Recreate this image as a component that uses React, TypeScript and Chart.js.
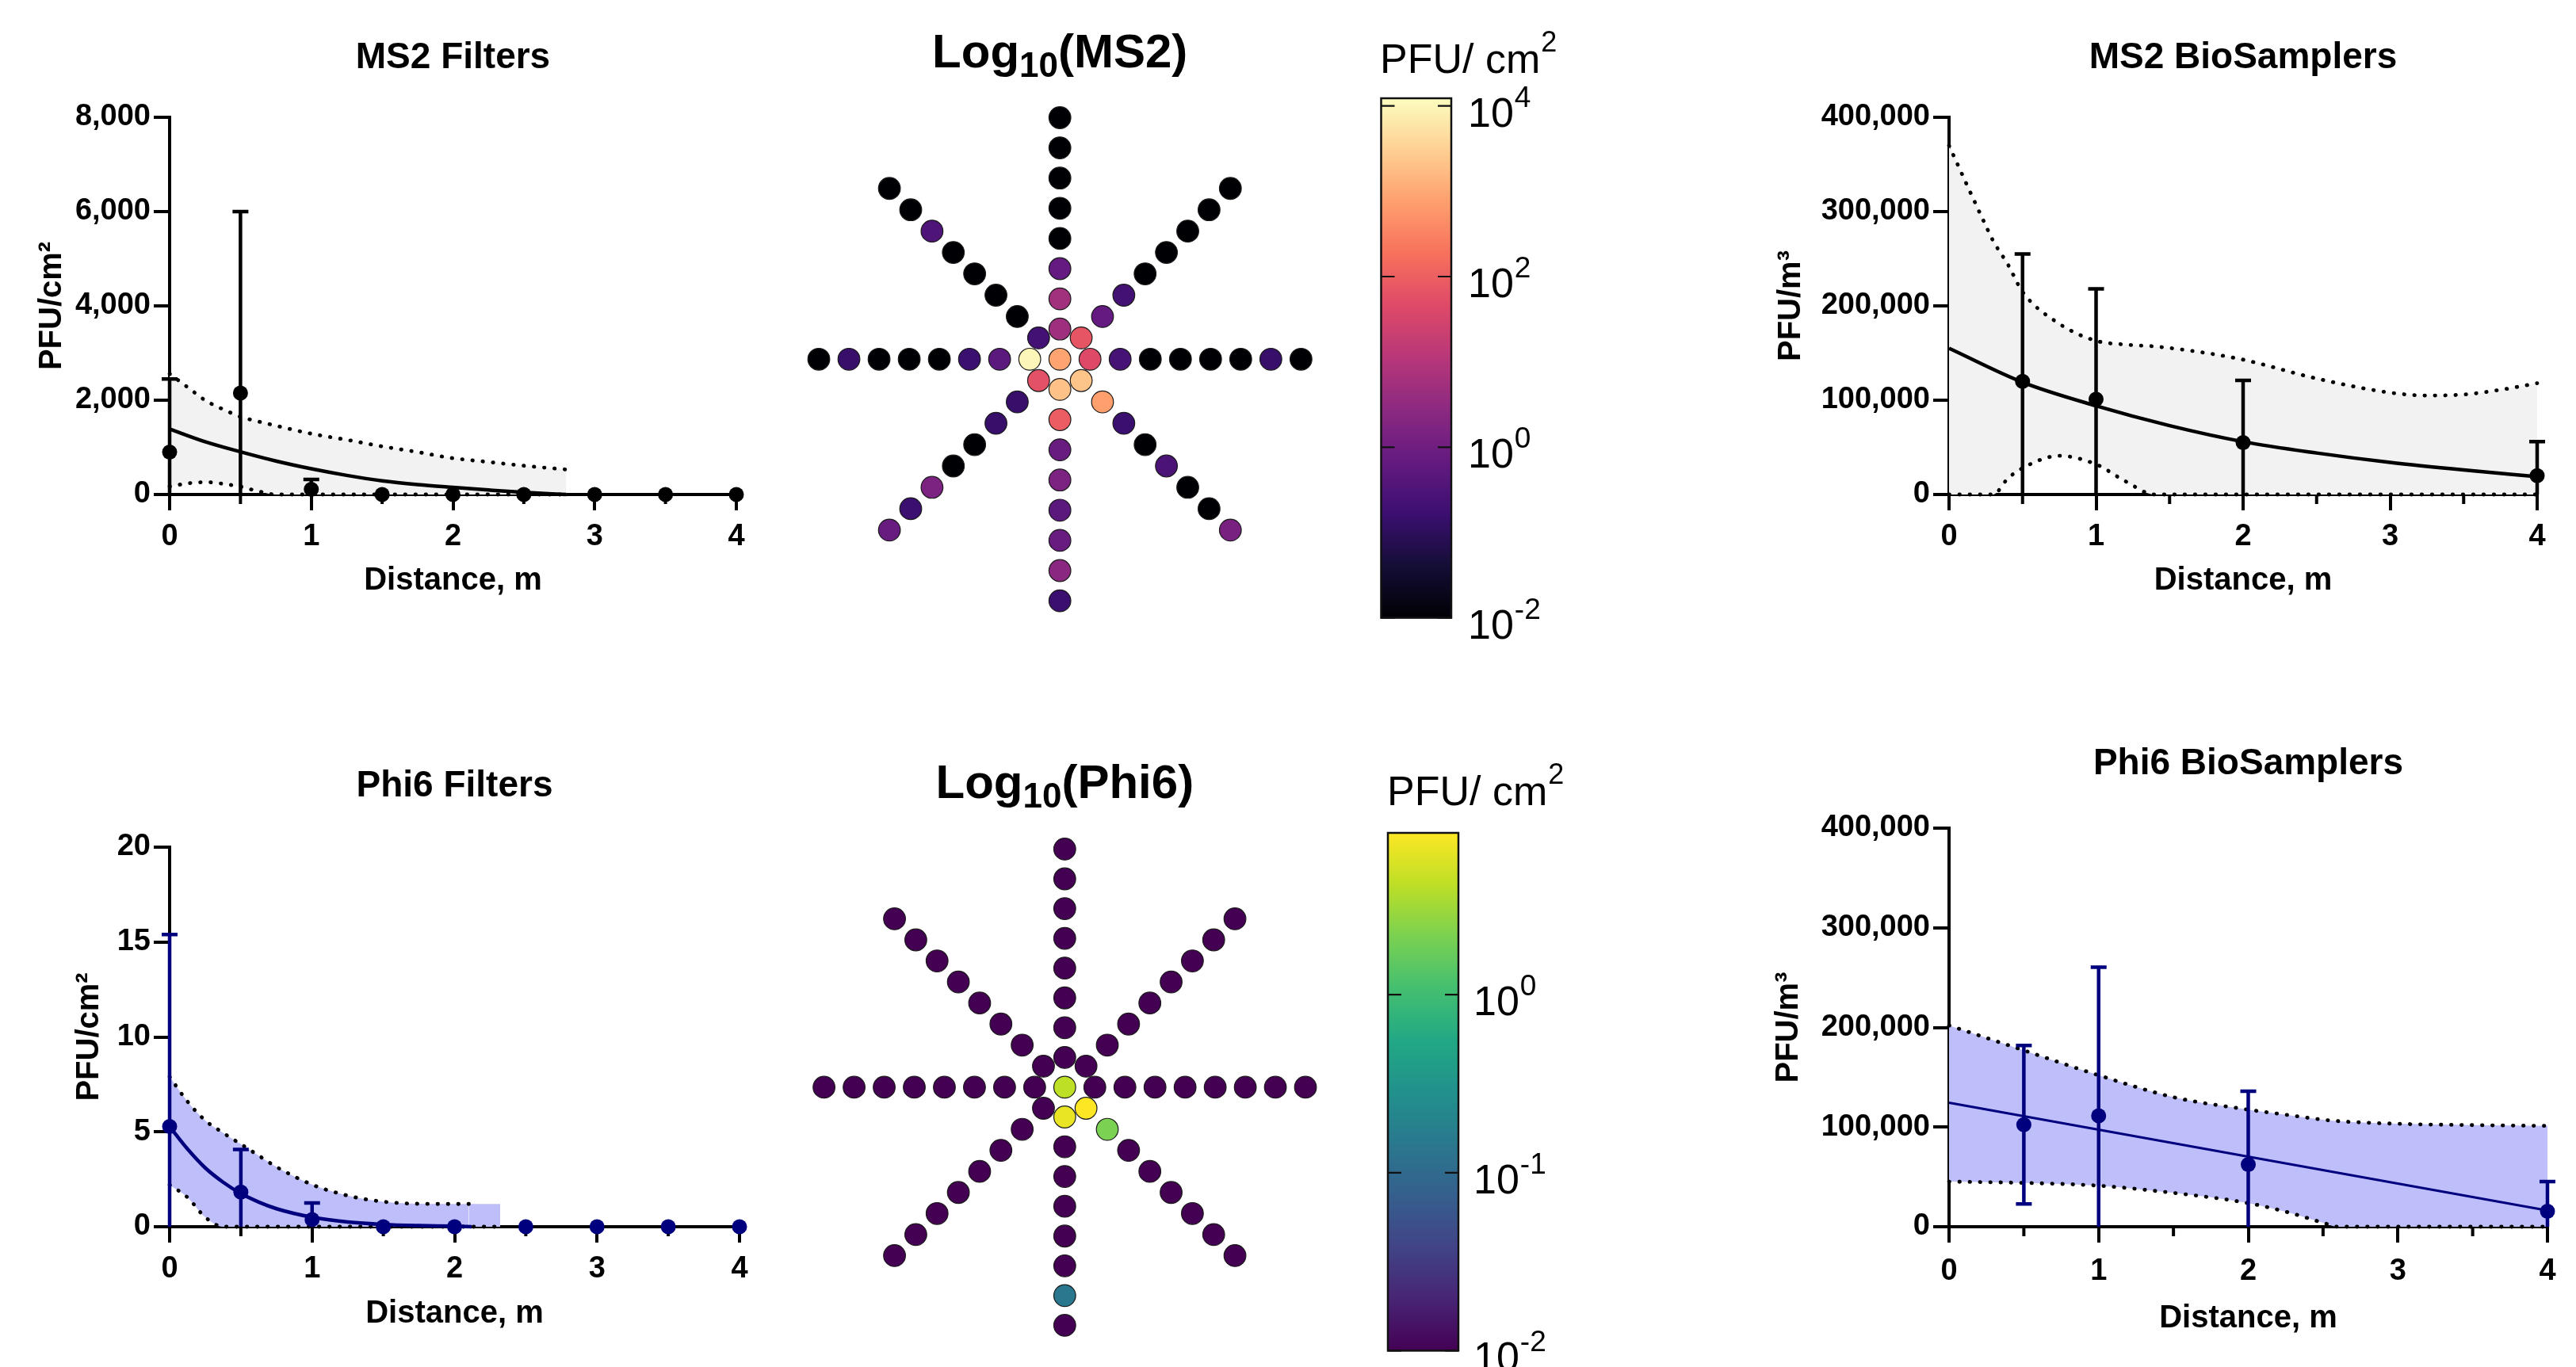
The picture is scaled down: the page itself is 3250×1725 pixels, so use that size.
import React, { useEffect, useRef } from 'react';
import { Chart, registerables } from 'chart.js';

Chart.register(...registerables);

const FONT = '"Liberation Sans", Arial, Helvetica, sans-serif';
Chart.defaults.font.family = FONT;

// ===================== DATA =====================
// --- MS2 Filters (PFU/cm2) ---
const FILTER_DIST = [0, 0.5, 1, 1.5, 2, 2.5, 3, 3.5, 4];
const MS2_FILTER_MEAN = [900, 2150, 110, 0, 0, 0, 0, 0, 0];
const MS2_FILTER_ERR_HIGH = [2450, 6000, 320, null, null, null, null, null, null];
const MS2_FILTER_ERR_LOW = [0, 0, 0, null, null, null, null, null, null];
const MS2_FILTER_FIT_X = [0, 0.25, 0.5, 0.75, 1, 1.25, 1.5, 1.75, 2, 2.25, 2.5, 2.8];
const MS2_FILTER_FIT_Y = [1390, 1120, 905, 710, 545, 405, 290, 210, 150, 95, 45, 0];
const MS2_FILTER_CI_X = [0, 0.125, 0.25, 0.375, 0.5, 0.625, 0.75, 1, 1.25, 1.5, 1.75, 2, 2.25, 2.5, 2.8];
const MS2_FILTER_CI_UPPER = [2560, 2280, 2000, 1810, 1650, 1550, 1460, 1290, 1160, 1020, 900, 770, 690, 610, 530];
const MS2_FILTER_CI_LOWER = [170, 235, 262, 228, 165, 70, 0, 0, 0, 0, 0, 0, 0, 0, 0];

// --- MS2 BioSamplers (PFU/m3) ---
const BIO_DIST = [0.5, 1, 2, 4];
const MS2_BIO_MEAN = [120000, 101000, 55000, 20000];
const MS2_BIO_ERR_HIGH = [255000, 218000, 121000, 56000];
const MS2_BIO_ERR_LOW = [0, 0, 0, 0];
const MS2_BIO_FIT_X = [0, 0.5, 1, 1.5, 2, 2.5, 3, 3.5, 4];
const MS2_BIO_FIT_Y = [155000, 119000, 94000, 73000, 56000, 44000, 34000, 26000, 19000];
const MS2_BIO_CI_X = [0, 0.25, 0.3, 0.4, 0.5, 0.75, 1, 1.2, 1.4, 1.75, 2, 2.5, 3, 3.25, 3.5, 3.75, 4];
const MS2_BIO_CI_UPPER = [370000, 285000, 269000, 244000, 215000, 181000, 163000, 159000, 157000, 150000, 143000, 123000, 108000, 105000, 106000, 111000, 118000];
const MS2_BIO_CI_LOWER = [0, 0, 0, 17000, 28000, 41000, 32000, 14000, 0, 0, 0, 0, 0, 0, 0, 0, 0];

// --- Phi6 Filters (PFU/cm2) ---
const PHI6_FILTER_MEAN = [5.28, 1.83, 0.38, 0, 0, 0, 0, 0, 0];
const PHI6_FILTER_ERR_HIGH = [15.4, 4.07, 1.25, null, null, null, null, null, null];
const PHI6_FILTER_ERR_LOW = [0, 0, 0, null, null, null, null, null, null];
const PHI6_FILTER_FIT_X = [0, 0.125, 0.25, 0.375, 0.5, 0.625, 0.75, 1, 1.25, 1.5, 1.75, 2, 2.12];
const PHI6_FILTER_FIT_Y = [5.28, 4.1, 3.1, 2.35, 1.75, 1.3, 0.95, 0.5, 0.25, 0.12, 0.06, 0.03, 0];
const PHI6_FILTER_CI_X = [0, 0.125, 0.25, 0.375, 0.5, 0.625, 0.75, 1, 1.25, 1.5, 1.75, 2, 2.1, 2.32];
const PHI6_FILTER_CI_UPPER = [7.9, 6.6, 5.6, 4.95, 4.35, 3.75, 3.15, 2.22, 1.64, 1.32, 1.21, 1.2, 1.2, 1.2];
const PHI6_FILTER_CI_LOWER = [2.2, 1.55, 0.5, 0, 0, 0, 0, 0, 0, 0, 0, 0, 0, 0];

// --- Phi6 BioSamplers (PFU/m3) ---
const PHI6_BIO_MEAN = [102400, 111400, 62400, 15500];
const PHI6_BIO_ERR_HIGH = [182000, 260400, 135900, 45300];
const PHI6_BIO_ERR_LOW = [22900, 0, 0, 0];
const PHI6_BIO_FIT_X = [0, 4];
const PHI6_BIO_FIT_Y = [124500, 16300];
const PHI6_BIO_CI_X = [0, 0.5, 1, 1.5, 2, 2.27, 2.5, 2.6, 3, 3.5, 4];
const PHI6_BIO_CI_UPPER = [202000, 177000, 152000, 130000, 117500, 112000, 107400, 106000, 103300, 102000, 101200];
const PHI6_BIO_CI_LOWER = [45300, 44000, 41200, 33900, 23700, 14300, 4000, 0, 0, 0, 0];

const X_MINOR_TICKS = [0.5, 1.5, 2.5, 3.5];

// --- Radial maps: log10(PFU/cm2), arms E, NE, N, NW, W, SW, S, SE; rings inner -> outer ---
const ARM_ANGLES = [0, 45, 90, 135, 180, 225, 270, 315];
const RING_DISTANCES = [0.5, 1, 1.5, 2, 2.5, 3, 3.5, 4];
const MS2_CENTER_LOG = 2.93;
const MS2_ARM_E = [1.65, -0.6, -2, -2, -2, -2, -0.84, -2];
const MS2_ARM_NE = [1.84, -0.17, -0.66, -2, -2, -2, -2, -2];
const MS2_ARM_N = [0.68, 0.74, -0.17, -2, -2, -2, -2, -2];
const MS2_ARM_NW = [-0.66, -2, -2, -2, -2, -0.48, -2, -2];
const MS2_ARM_W = [4.0, -0.3, -0.78, -2, -2, -2, -0.84, -2];
const MS2_ARM_SW = [1.78, -0.84, -0.84, -2, -2, 0.19, -0.78, -0.1];
const MS2_ARM_S = [3.3, 1.96, -0.11, 0.19, -0.3, -0.1, 0.4, -0.78];
const MS2_ARM_SE = [3.36, 2.87, -0.78, -2, -0.54, -2, -2, 0.13];

const PHI6_CENTER_LOG = 0.62;
const PHI6_ARM_E = [-2, -2, -2, -2, -2, -2, -2, -2];
const PHI6_ARM_NE = [-2, -2, -2, -2, -2, -2, -2, -2];
const PHI6_ARM_N = [-2, -2, -2, -2, -2, -2, -2, -2];
const PHI6_ARM_NW = [-2, -2, -2, -2, -2, -2, -2, -2];
const PHI6_ARM_W = [-2, -2, -2, -2, -2, -2, -2, -2];
const PHI6_ARM_SW = [-2, -2, -2, -2, -2, -2, -2, -2];
const PHI6_ARM_S = [0.82, -2, -2, -2, -2, -2, -0.84, -2];
const PHI6_ARM_SE = [0.91, 0.33, -2, -2, -2, -2, -2, -2];

// colour bar ranges and ticks (log10)
const MS2_CBAR_RANGE = [-2, 4.09];
const MS2_CBAR_TICKS = [-2, 0, 2, 4];
const PHI6_CBAR_RANGE = [-2, 0.909];
const PHI6_CBAR_TICKS = [-2, -1, 0];

// ===================== COLORMAPS =====================
const MAGMA = ['#000004', '#140e36', '#3b0f70', '#641a80', '#8c2981', '#b73779', '#de4968', '#f7705c', '#fe9f6d', '#fecf92', '#fcfdbf'];
const VIRIDIS = ['#440154', '#482475', '#414487', '#355f8d', '#2a788e', '#21918c', '#22a884', '#44bf70', '#7ad151', '#bddf26', '#fde725'];

function hexRgb(h: string) {
  return [parseInt(h.slice(1, 3), 16), parseInt(h.slice(3, 5), 16), parseInt(h.slice(5, 7), 16)];
}
function sampleMap(stops: string[], t: number) {
  const tt = Math.max(0, Math.min(1, t));
  const p = tt * (stops.length - 1);
  const i = Math.min(stops.length - 2, Math.floor(p));
  const f = p - i;
  const a = hexRgb(stops[i]);
  const b = hexRgb(stops[i + 1]);
  const c = a.map((v, k) => Math.round(v + (b[k] - v) * f));
  return `rgb(${c[0]},${c[1]},${c[2]})`;
}

// ===================== LINE PANELS =====================
type LineCfg = {
  canvas: { x: number; y: number; w: number; h: number };
  area: { l: number; r: number; t: number; b: number };
  titleY: number; yTitleX: number; xLabelY: number; xTitleY: number;
  title: string; yTitle: string; yMax: number; yStep: number;
  color: string; band: string; fitWidth: number;
  meanX: number[]; mean: number[]; errHigh: (number | null)[]; errLow: (number | null)[];
  fitX: number[]; fit: number[]; ciX: number[]; ciUpper: number[]; ciLower: number[]; ciDotEnd: number;
};

const NAVY = '#00007f';
const LAVENDER = 'rgb(190,190,250)';
const TICK_FONT = 38;

const PANELS: LineCfg[] = [
  {
    canvas: { x: 0, y: 0, w: 1000, h: 860 }, area: { l: 214, r: 929, t: 148, b: 624 },
    titleY: 73.6, yTitleX: 65.5, xLabelY: 678, xTitleY: 733,
    title: 'MS2 Filters', yTitle: 'PFU/cm²', yMax: 8000, yStep: 2000,
    color: '#000', band: '#f2f2f2', fitWidth: 4.5,
    meanX: FILTER_DIST, mean: MS2_FILTER_MEAN, errHigh: MS2_FILTER_ERR_HIGH, errLow: MS2_FILTER_ERR_LOW,
    fitX: MS2_FILTER_FIT_X, fit: MS2_FILTER_FIT_Y, ciX: MS2_FILTER_CI_X, ciUpper: MS2_FILTER_CI_UPPER, ciLower: MS2_FILTER_CI_LOWER, ciDotEnd: 2.8,
  },
  {
    canvas: { x: 2150, y: 0, w: 1100, h: 860 }, area: { l: 2459, r: 3201, t: 148, b: 624 },
    titleY: 73.6, yTitleX: 2260, xLabelY: 678, xTitleY: 733,
    title: 'MS2 BioSamplers', yTitle: 'PFU/m³', yMax: 400000, yStep: 100000,
    color: '#000', band: '#f2f2f2', fitWidth: 4.5,
    meanX: BIO_DIST, mean: MS2_BIO_MEAN, errHigh: MS2_BIO_ERR_HIGH, errLow: MS2_BIO_ERR_LOW,
    fitX: MS2_BIO_FIT_X, fit: MS2_BIO_FIT_Y, ciX: MS2_BIO_CI_X, ciUpper: MS2_BIO_CI_UPPER, ciLower: MS2_BIO_CI_LOWER, ciDotEnd: 4,
  },
  {
    canvas: { x: 0, y: 900, w: 1000, h: 825 }, area: { l: 214, r: 933, t: 1069, b: 1548 },
    titleY: 992, yTitleX: 113, xLabelY: 1601.5, xTitleY: 1658,
    title: 'Phi6 Filters', yTitle: 'PFU/cm²', yMax: 20, yStep: 5,
    color: NAVY, band: LAVENDER, fitWidth: 4.5,
    meanX: FILTER_DIST, mean: PHI6_FILTER_MEAN, errHigh: PHI6_FILTER_ERR_HIGH, errLow: PHI6_FILTER_ERR_LOW,
    fitX: PHI6_FILTER_FIT_X, fit: PHI6_FILTER_FIT_Y, ciX: PHI6_FILTER_CI_X, ciUpper: PHI6_FILTER_CI_UPPER, ciLower: PHI6_FILTER_CI_LOWER, ciDotEnd: 2.1,
  },
  {
    canvas: { x: 2150, y: 900, w: 1100, h: 825 }, area: { l: 2459, r: 3214, t: 1045, b: 1548 },
    titleY: 964.5, yTitleX: 2256.6, xLabelY: 1604.5, xTitleY: 1664,
    title: 'Phi6 BioSamplers', yTitle: 'PFU/m³', yMax: 400000, yStep: 100000,
    color: NAVY, band: LAVENDER, fitWidth: 3,
    meanX: BIO_DIST, mean: PHI6_BIO_MEAN, errHigh: PHI6_BIO_ERR_HIGH, errLow: PHI6_BIO_ERR_LOW,
    fitX: PHI6_BIO_FIT_X, fit: PHI6_BIO_FIT_Y, ciX: PHI6_BIO_CI_X, ciUpper: PHI6_BIO_CI_UPPER, ciLower: PHI6_BIO_CI_LOWER, ciDotEnd: 4,
  },
];

function LinePanel({ cfg }: { cfg: LineCfg }) {
  const ref = useRef<HTMLCanvasElement>(null);
  const c = cfg.canvas;
  useEffect(() => {
    const a = cfg.area;
    const tLH = 46 * 1.2;
    const titleTop = cfg.titleY - c.y - tLH / 2;
    const titleBottom = a.t - c.y - titleTop - tLH;
    const yW = a.l - c.x;
    const xH = c.y + c.h - a.b;
    const padR = c.x + c.w - a.r;
    const yTitlePad = cfg.yTitleX - c.x - 24;
    const xTickPad = cfg.xLabelY - a.b - 20 - (TICK_FONT * 1.2) / 2;
    const xTitlePad = c.y + c.h - cfg.xTitleY - 24;
    const zip = (xs: number[], ys: number[]) => xs.map((x, i) => ({ x, y: ys[i] }));

    const errorBars = {
      id: 'errorBars',
      afterDatasetDraw(chart: any, args: any) {
        if (chart.data.datasets[args.index].label !== 'Fit') return;
        const ctx = chart.ctx;
        const xs = chart.scales.x;
        const ys = chart.scales.y;
        ctx.save();
        ctx.strokeStyle = cfg.color;
        ctx.lineWidth = 4.5;
        ctx.lineCap = 'butt';
        cfg.meanX.forEach((xv, i) => {
          const hi = cfg.errHigh[i];
          if (hi == null) return;
          const lo = cfg.errLow[i] ?? 0;
          const px = xs.getPixelForValue(xv);
          const pHi = ys.getPixelForValue(hi);
          const pLo = ys.getPixelForValue(Math.max(lo, 0));
          ctx.beginPath();
          ctx.moveTo(px, pLo);
          ctx.lineTo(px, pHi);
          ctx.moveTo(px - 10, pHi);
          ctx.lineTo(px + 10, pHi);
          if (lo > 0) {
            ctx.moveTo(px - 10, pLo);
            ctx.lineTo(px + 10, pLo);
          }
          ctx.stroke();
        });
        ctx.restore();
      },
    };
    const minorTicks = {
      id: 'minorTicks',
      beforeDatasetsDraw(chart: any) {
        const ctx = chart.ctx;
        const xs = chart.scales.x;
        const y0 = chart.chartArea.bottom;
        ctx.save();
        ctx.strokeStyle = '#000';
        ctx.lineWidth = 4;
        X_MINOR_TICKS.forEach((v) => {
          const px = xs.getPixelForValue(v);
          ctx.beginPath();
          ctx.moveTo(px, y0);
          ctx.lineTo(px, y0 + 12);
          ctx.stroke();
        });
        ctx.restore();
      },
    };

    const chart = new Chart(ref.current as HTMLCanvasElement, {
      type: 'line',
      data: {
        datasets: [
          {
            label: 'Mean', data: zip(cfg.meanX, cfg.mean), showLine: false,
            pointRadius: 9.5, pointHoverRadius: 9.5, pointBackgroundColor: cfg.color, pointBorderWidth: 0,
            order: 0, clip: false as any,
          },
          {
            label: 'Fit', data: zip(cfg.fitX, cfg.fit), borderColor: cfg.color, borderWidth: cfg.fitWidth,
            pointRadius: 0, cubicInterpolationMode: 'monotone', fill: false, order: 1, clip: false as any,
          },
          {
            label: 'CI lower', data: zip(cfg.ciX, cfg.ciLower), borderColor: '#000', borderWidth: 4.8,
            borderDash: [0.5, 12.5], borderCapStyle: 'round', pointRadius: 0, cubicInterpolationMode: 'monotone',
            fill: false, order: 2, clip: false as any,
          },
          {
            label: 'CI upper', data: zip(cfg.ciX, cfg.ciUpper), borderColor: '#000', borderWidth: 4.8,
            borderDash: [0.5, 12.5], borderCapStyle: 'round', pointRadius: 0, cubicInterpolationMode: 'monotone',
            fill: 2, backgroundColor: cfg.band, order: 3, clip: false as any,
            segment: {
              borderColor: (ctx: any) => (ctx.p0.parsed.x >= cfg.ciDotEnd - 1e-9 ? 'rgba(0,0,0,0)' : '#000'),
            },
          },
        ] as any,
      },
      options: {
        responsive: false,
        animation: false,
        devicePixelRatio: 1,
        events: [],
        layout: { padding: { left: 0, top: 0, right: padR, bottom: 0 } },
        plugins: {
          legend: { display: false },
          tooltip: { enabled: false },
          title: {
            display: true, text: cfg.title, color: '#000', fullSize: false,
            font: { family: FONT, size: 46, weight: 'bold' },
            padding: { top: titleTop, bottom: titleBottom },
          },
        },
        scales: {
          x: {
            type: 'linear', min: 0, max: 4,
            border: { display: true, color: '#000', width: 4 },
            grid: { display: true, drawOnChartArea: false, drawTicks: true, tickLength: 20, tickWidth: 4, tickColor: '#000', color: '#000', lineWidth: 4 },
            ticks: { stepSize: 1, color: '#000', padding: xTickPad, maxRotation: 0, autoSkip: false, font: { family: FONT, size: TICK_FONT, weight: 'bold' } },
            title: { display: true, text: 'Distance, m', color: '#000', font: { family: FONT, size: 40, weight: 'bold' }, padding: { top: 0, bottom: xTitlePad } },
            afterFit: (s: any) => { s.height = xH; },
          },
          y: {
            type: 'linear', min: 0, max: cfg.yMax,
            border: { display: true, color: '#000', width: 4 },
            grid: { display: true, drawOnChartArea: false, drawTicks: true, tickLength: 20, tickWidth: 4, tickColor: '#000', color: '#000', lineWidth: 4 },
            ticks: {
              stepSize: cfg.yStep, color: '#000', padding: 4, autoSkip: false,
              font: { family: FONT, size: TICK_FONT, weight: 'bold' },
              callback: (v: any) => Number(v).toLocaleString('en-US'),
            },
            title: { display: true, text: cfg.yTitle, color: '#000', font: { family: FONT, size: 40, weight: 'bold' }, padding: { top: yTitlePad, bottom: 0 } },
            afterFit: (s: any) => { s.width = yW; },
          },
        },
      } as any,
      plugins: [minorTicks, errorBars],
    });
    return () => chart.destroy();
  }, [cfg]);
  return (
    <canvas ref={ref} width={c.w} height={c.h}
      style={{ position: 'absolute', left: c.x, top: c.y, width: c.w, height: c.h }} />
  );
}

// ===================== RADIAL PANELS =====================
type RadialCfg = {
  canvas: { x: number; y: number; w: number; h: number };
  center: { x: number; y: number }; pxPerMeter: number;
  titleBaseline: number; name: string;
  centerLog: number; arms: number[][]; range: number[]; cmap: string[];
};

const RADIALS: RadialCfg[] = [
  {
    canvas: { x: 980, y: 0, w: 720, h: 860 }, center: { x: 1336.5, y: 453.3 }, pxPerMeter: 76.2,
    titleBaseline: 84.5, name: 'MS2', centerLog: MS2_CENTER_LOG,
    arms: [MS2_ARM_E, MS2_ARM_NE, MS2_ARM_N, MS2_ARM_NW, MS2_ARM_W, MS2_ARM_SW, MS2_ARM_S, MS2_ARM_SE],
    range: MS2_CBAR_RANGE, cmap: MAGMA,
  },
  {
    canvas: { x: 980, y: 900, w: 720, h: 825 }, center: { x: 1345, y: 1377.2 }, pxPerMeter: 76.3,
    titleBaseline: 1007, name: 'Phi6', centerLog: PHI6_CENTER_LOG,
    arms: [PHI6_ARM_E, PHI6_ARM_NE, PHI6_ARM_N, PHI6_ARM_NW, PHI6_ARM_W, PHI6_ARM_SW, PHI6_ARM_S, PHI6_ARM_SE],
    range: PHI6_CBAR_RANGE, cmap: VIRIDIS,
  },
];

function RadialPanel({ cfg }: { cfg: RadialCfg }) {
  const ref = useRef<HTMLCanvasElement>(null);
  const c = cfg.canvas;
  useEffect(() => {
    const half = 4.5 * cfg.pxPerMeter;
    const toT = (v: number) => (v - cfg.range[0]) / (cfg.range[1] - cfg.range[0]);
    const pts: { x: number; y: number }[] = [{ x: 0, y: 0 }];
    const cols: string[] = [sampleMap(cfg.cmap, toT(cfg.centerLog))];
    cfg.arms.forEach((arm, ai) => {
      const ang = (ARM_ANGLES[ai] * Math.PI) / 180;
      arm.forEach((v, si) => {
        const d = RING_DISTANCES[si];
        pts.push({ x: d * Math.cos(ang), y: d * Math.sin(ang) });
        cols.push(sampleMap(cfg.cmap, toT(v)));
      });
    });
    const titlePlugin = {
      id: 'logTitle',
      afterDraw(chart: any) {
        const ctx = chart.ctx;
        const ca = chart.chartArea;
        const cx = (ca.left + ca.right) / 2;
        const base = cfg.titleBaseline - c.y;
        const main = `bold 60px ${FONT}`;
        const sub = `bold 44px ${FONT}`;
        const rest = `(${cfg.name})`;
        ctx.save();
        ctx.fillStyle = '#000';
        ctx.textAlign = 'left';
        ctx.textBaseline = 'alphabetic';
        ctx.font = main;
        const w1 = ctx.measureText('Log').width;
        const w3 = ctx.measureText(rest).width;
        ctx.font = sub;
        const w2 = ctx.measureText('10').width;
        let x = cx - (w1 + w2 + w3) / 2;
        ctx.font = main; ctx.fillText('Log', x, base); x += w1;
        ctx.font = sub; ctx.fillText('10', x, base + 12); x += w2;
        ctx.font = main; ctx.fillText(rest, x, base);
        ctx.restore();
      },
    };
    const chart = new Chart(ref.current as HTMLCanvasElement, {
      type: 'scatter',
      data: {
        datasets: [{
          data: pts, pointRadius: 13.8, pointHoverRadius: 13.8,
          pointBackgroundColor: cols, pointBorderColor: '#1a1a1a', pointBorderWidth: 1.2, clip: false as any,
        }],
      },
      options: {
        responsive: false, animation: false, devicePixelRatio: 1, events: [],
        layout: {
          padding: {
            left: cfg.center.x - half - c.x,
            right: c.x + c.w - (cfg.center.x + half),
            top: cfg.center.y - half - c.y,
            bottom: c.y + c.h - (cfg.center.y + half),
          },
        },
        scales: {
          x: { type: 'linear', display: false, min: -4.5, max: 4.5 },
          y: { type: 'linear', display: false, min: -4.5, max: 4.5 },
        },
        plugins: { legend: { display: false }, tooltip: { enabled: false } },
      } as any,
      plugins: [titlePlugin],
    });
    return () => chart.destroy();
  }, [cfg]);
  return (
    <canvas ref={ref} width={c.w} height={c.h}
      style={{ position: 'absolute', left: c.x, top: c.y, width: c.w, height: c.h }} />
  );
}

// ===================== COLOUR BARS =====================
type CbarCfg = {
  canvas: { x: number; y: number; w: number; h: number };
  bar: { l: number; r: number; t: number; b: number };
  range: number[]; ticks: number[]; cmap: string[];
  titleLeft: number; titleBaseline: number; labelGap: number;
};

const CBARS: CbarCfg[] = [
  {
    canvas: { x: 1700, y: 0, w: 450, h: 860 }, bar: { l: 1742.5, r: 1831, t: 124, b: 779.6 },
    range: MS2_CBAR_RANGE, ticks: MS2_CBAR_TICKS, cmap: MAGMA,
    titleLeft: 1741, titleBaseline: 92, labelGap: 21,
  },
  {
    canvas: { x: 1700, y: 900, w: 450, h: 825 }, bar: { l: 1751, r: 1840, t: 1051, b: 1704.4 },
    range: PHI6_CBAR_RANGE, ticks: PHI6_CBAR_TICKS, cmap: VIRIDIS,
    titleLeft: 1750, titleBaseline: 1016, labelGap: 19,
  },
];

function ColorbarPanel({ cfg }: { cfg: CbarCfg }) {
  const ref = useRef<HTMLCanvasElement>(null);
  const c = cfg.canvas;
  useEffect(() => {
    const cbPlugin = {
      id: 'colorbar',
      afterDraw(chart: any) {
        const ctx = chart.ctx;
        const { left, right, top, bottom } = chart.chartArea;
        const ys = chart.scales.y;
        ctx.save();
        const g = ctx.createLinearGradient(0, bottom, 0, top);
        cfg.cmap.forEach((col, i) => g.addColorStop(i / (cfg.cmap.length - 1), col));
        ctx.fillStyle = g;
        ctx.fillRect(left, top, right - left, bottom - top);
        ctx.strokeStyle = '#111';
        ctx.lineWidth = 2.5;
        ctx.strokeRect(left, top, right - left, bottom - top);
        ctx.lineWidth = 2.2;
        ctx.fillStyle = '#000';
        ctx.textAlign = 'left';
        ctx.textBaseline = 'alphabetic';
        cfg.ticks.forEach((e) => {
          const y = ys.getPixelForValue(Math.pow(10, e));
          ctx.beginPath();
          ctx.moveTo(left, y); ctx.lineTo(left + 17, y);
          ctx.moveTo(right - 17, y); ctx.lineTo(right, y);
          ctx.stroke();
          const x0 = right + cfg.labelGap;
          ctx.font = `52px ${FONT}`;
          ctx.fillText('10', x0, y + 26);
          const w = ctx.measureText('10').width;
          ctx.font = `37px ${FONT}`;
          ctx.fillText(String(e), x0 + w + 1, y + 1);
        });
        // header
        const tx = cfg.titleLeft - c.x;
        const tb = cfg.titleBaseline - c.y;
        ctx.font = `52px ${FONT}`;
        ctx.fillText('PFU/ cm', tx, tb);
        const tw = ctx.measureText('PFU/ cm').width;
        ctx.font = `36px ${FONT}`;
        ctx.fillText('2', tx + tw + 1, tb - 27);
        ctx.restore();
      },
    };
    const chart = new Chart(ref.current as HTMLCanvasElement, {
      type: 'scatter',
      data: { datasets: [] },
      options: {
        responsive: false, animation: false, devicePixelRatio: 1, events: [],
        layout: {
          padding: {
            left: cfg.bar.l - c.x, right: c.x + c.w - cfg.bar.r,
            top: cfg.bar.t - c.y, bottom: c.y + c.h - cfg.bar.b,
          },
        },
        scales: {
          x: { type: 'linear', display: false, min: 0, max: 1 },
          y: { type: 'logarithmic', display: false, min: Math.pow(10, cfg.range[0]), max: Math.pow(10, cfg.range[1]) },
        },
        plugins: { legend: { display: false }, tooltip: { enabled: false } },
      } as any,
      plugins: [cbPlugin],
    });
    return () => chart.destroy();
  }, [cfg]);
  return (
    <canvas ref={ref} width={c.w} height={c.h}
      style={{ position: 'absolute', left: c.x, top: c.y, width: c.w, height: c.h }} />
  );
}

export default function App() {
  return (
    <div style={{ position: 'absolute', left: 0, top: 0, width: 3250, height: 1725, background: '#fff', overflow: 'hidden' }}>
      {PANELS.map((p, i) => <LinePanel key={'l' + i} cfg={p} />)}
      {RADIALS.map((r, i) => <RadialPanel key={'r' + i} cfg={r} />)}
      {CBARS.map((b, i) => <ColorbarPanel key={'c' + i} cfg={b} />)}
    </div>
  );
}
